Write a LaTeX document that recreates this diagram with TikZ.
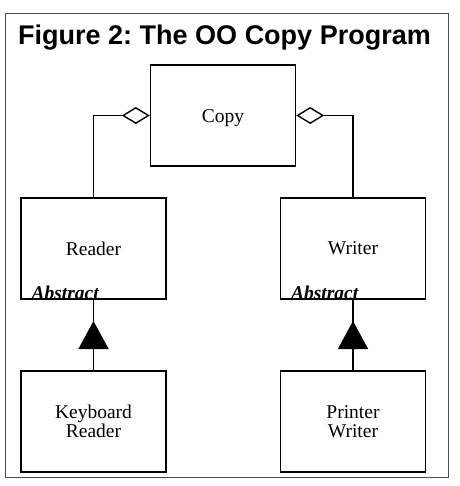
\documentclass[tikz,border=0pt]{standalone}
\usepackage{fontspec}
\setmainfont{Liberation Serif}
\newfontfamily\titlefont{Liberation Sans}
\usetikzlibrary{arrows.meta,calc}
\frenchspacing
\tikzset{
  cls/.style={draw, line width=1.4pt, minimum width=145pt, minimum height=101pt, inner sep=0pt, align=center, font=\fontsize{19.5}{19}\selectfont},
  conn/.style={line width=1.4pt},
  abs/.style={anchor=base west, inner sep=0pt, font=\fontsize{19.5}{19}\selectfont\bfseries\itshape},
  agg/.style={conn, -{Diamond[open, length=28pt, width=17pt, line width=1.4pt]}},
  inh/.style={conn, -{Triangle[length=28pt, width=30pt]}}
}
\begin{document}
\begin{tikzpicture}[x=1pt,y=-1pt]
\useasboundingbox (0,0) rectangle (459,486);
\draw[line width=1pt, black!70] (5,14) rectangle (448,477);
\node[inner sep=0pt, anchor=base, font=\fontsize{27}{27}\selectfont\titlefont\bfseries] (title) at (224.5,45) {Figure 2: The OO Copy Program};
\node[cls] (copy) at (223,115.5) {\raisebox{-7pt}[0pt][0pt]{Copy}};
\node[cls] (reader) at (93.5,248.5) {Reader};
\node[cls] (writer) at (353,248.5) {Writer};
\node[cls] (kr) at (93.5,421.5) {Keyboard\\Reader};
\node[cls] (pw) at (353,421.5) {Printer\\Writer};
\node[abs] (absr) at ($(reader.south west)+(11,0)$) {Abstract};
\node[abs] (absw) at ($(writer.south west)+(11,0)$) {Abstract};
\draw[agg] (reader.north) |- (copy.west);
\draw[agg] (writer.north) |- (copy.east);
\coordinate (m1) at ($(kr.north)!0.5!(reader.south)$);
\coordinate (m2) at ($(pw.north)!0.5!(writer.south)$);
\draw[inh] (kr.north) -- ([yshift=14pt]m1);
\draw[conn] (m1) -- (reader.south);
\draw[inh] (pw.north) -- ([yshift=14pt]m2);
\draw[conn] (m2) -- (writer.south);
\end{tikzpicture}
\end{document}
